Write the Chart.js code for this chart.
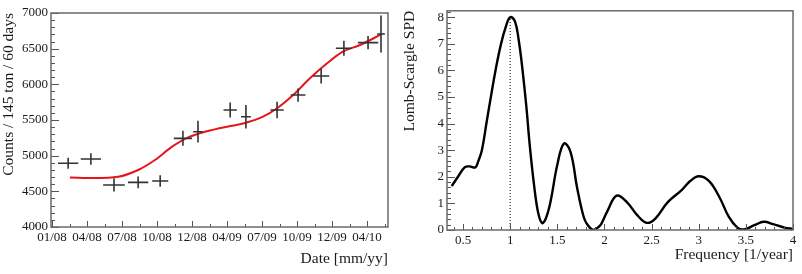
<!DOCTYPE html>
<html>
<head>
<meta charset="utf-8">
<script src="https://cdn.jsdelivr.net/npm/chart.js@4"></script>
<style>
  body { margin: 0; background: #fff; }
  .pane { position: absolute; top: 0; width: 401px; height: 274px; }
</style>
</head>
<body>
<div class="pane" style="left:0"><canvas id="rateChart" width="401" height="274"></canvas></div>
<div class="pane" style="left:401px"><canvas id="spdChart" width="401" height="274"></canvas></div>
<script>
// left panel: rate vs date
const dateLabels = ["01/08", "04/08", "07/08", "10/08", "12/08", "04/09", "07/09", "10/09", "12/09", "04/10"];
const binX = [0.46, 1.11, 1.77, 2.46, 3.09, 3.74, 4.17, 5.09, 5.54, 6.43, 7.03, 7.69, 8.34, 9.03, 9.4];
const binHalf = [0.29, 0.29, 0.31, 0.29, 0.23, 0.26, 0.14, 0.19, 0.14, 0.19, 0.21, 0.23, 0.23, 0.29, 0.11];
const counts = [4893, 4953, 4589, 4626, 4645, 5243, 5336, 5640, 5546, 5640, 5850, 6117, 6505, 6584, 6706];
const countErr = [77, 82, 93, 82, 82, 105, 152, 105, 164, 117, 93, 105, 105, 93, 260];
const fitX = [0.51, 1.2, 1.89, 2.46, 2.94, 3.43, 3.89, 4.37, 5.09, 5.46, 6.03, 6.43, 6.89, 7.37, 7.86, 8.31, 8.8, 9.43];
const fitY = [4695, 4688, 4705, 4799, 4939, 5126, 5257, 5335, 5415, 5450, 5546, 5664, 5850, 6085, 6295, 6457, 6551, 6706];

// right panel: Lomb-Scargle periodogram
const freqTicks = [0.5, 1, 1.5, 2, 2.5, 3, 3.5, 4];
const freq = [0.38, 0.45, 0.52, 0.57, 0.63, 0.66, 0.70, 0.75, 0.80, 0.85, 0.90, 0.95, 1.0, 1.05, 1.09, 1.13, 1.17, 1.21, 1.26, 1.30, 1.34, 1.38, 1.43, 1.50, 1.57, 1.64, 1.71, 1.78, 1.82, 1.88, 1.94, 1.97, 2.03, 2.13, 2.24, 2.35, 2.45, 2.54, 2.67, 2.81, 2.91, 3.0, 3.11, 3.22, 3.32, 3.41, 3.48, 3.59, 3.69, 3.79, 3.91, 4.0];
const spd = [1.65, 2.02, 2.36, 2.39, 2.35, 2.57, 3.0, 4.05, 5.1, 6.1, 6.95, 7.6, 8.0, 7.85, 7.15, 6.05, 4.7, 3.1, 1.5, 0.6, 0.26, 0.45, 1.10, 2.45, 3.25, 2.94, 1.59, 0.49, 0.2, 0.0, 0.12, 0.25, 0.7, 1.29, 1.04, 0.55, 0.27, 0.43, 1.04, 1.47, 1.84, 2.02, 1.84, 1.23, 0.49, 0.09, 0.02, 0.18, 0.31, 0.22, 0.09, 0.04];
const peakFreq = [1, 1];
const peakLine = [0, 8];

const FONT = "'Liberation Serif', 'DejaVu Serif', serif";
const INK = "#1a1a1a";

// ROOT-like frame with inward tick marks
const frameTicks = {
  id: "frameTicks",
  afterDraw(chart, args, opts) {
    const { ctx, chartArea: a, scales } = chart;
    ctx.save();
    ctx.strokeStyle = "#555";
    ctx.lineWidth = 1;
    ["x", "y"].forEach((k) => {
      const s = scales[k], o = opts[k];
      const mark = (v, len) => {
        const p = Math.round(s.getPixelForValue(v)) + 0.5;
        ctx.beginPath();
        if (k === "x") { ctx.moveTo(p, a.bottom); ctx.lineTo(p, a.bottom - len); }
        else { ctx.moveTo(a.left, p); ctx.lineTo(a.left + len, p); }
        ctx.stroke();
      };
      for (let i = 0; o.from + i * o.step <= o.to + 1e-9; i++) mark(o.from + i * o.step, o.minorLen);
      s.ticks.forEach((t) => mark(t.value, o.majorLen));
    });
    ctx.strokeStyle = "#6a6a6a";
    ctx.lineWidth = 1.5;
    ctx.strokeRect(a.left, a.top, a.right - a.left, a.bottom - a.top);
    ctx.restore();
  },
};

// crosses: x bin width and y statistical error
const errorBars = {
  id: "errorBars",
  afterDatasetsDraw(chart) {
    if (chart.canvas.id !== "rateChart") return;
    const { ctx, scales: { x, y } } = chart;
    ctx.save();
    ctx.strokeStyle = "#333";
    ctx.lineWidth = 1.6;
    binX.forEach((xv, i) => {
      const px = x.getPixelForValue(xv), py = y.getPixelForValue(counts[i]);
      ctx.beginPath();
      ctx.moveTo(x.getPixelForValue(xv - binHalf[i]), py);
      ctx.lineTo(x.getPixelForValue(xv + binHalf[i]), py);
      ctx.moveTo(px, y.getPixelForValue(counts[i] - countErr[i]));
      ctx.lineTo(px, y.getPixelForValue(counts[i] + countErr[i]));
      ctx.stroke();
    });
    ctx.restore();
  },
};

const tickFont = { family: FONT, size: 13 };
const titleFont = { family: FONT, size: 15.5 };

new Chart(document.getElementById("rateChart"), {
  type: "scatter",
  data: {
    datasets: [
      {
        data: binX.map((x, i) => ({ x, y: counts[i] })),
        pointRadius: 0,
        showLine: false,
      },
      {
        data: fitX.map((x, i) => ({ x, y: fitY[i] })),
        showLine: true,
        borderColor: "#e8141b",
        borderWidth: 2,
        pointRadius: 0,
        cubicInterpolationMode: "monotone",
      },
    ],
  },
  options: {
    responsive: false,
    animation: false,
    devicePixelRatio: 1,
    layout: { padding: { left: 0, right: 13, top: 13, bottom: 0 } },
    plugins: {
      legend: { display: false },
      tooltip: { enabled: false },
      frameTicks: {
        x: { from: -0.5, to: 9.5, step: 0.5, majorLen: 6, minorLen: 3 },
        y: { from: 4000, to: 7000, step: 100, majorLen: 8, minorLen: 4 },
      },
    },
    scales: {
      x: {
        type: "linear",
        min: -0.03,
        max: 9.6,
        afterBuildTicks: (s) => { s.ticks = dateLabels.map((_, i) => ({ value: i })); },
        afterFit: (s) => { s.height = 47; },
        grid: { display: false, drawTicks: false },
        border: { display: false },
        ticks: {
          autoSkip: false, maxRotation: 0, padding: 3, color: INK, font: tickFont,
          callback: (v) => dateLabels[v],
        },
        title: {
          display: true, text: "Date [mm/yy]", align: "end", color: INK,
          font: titleFont, padding: { top: 0, bottom: 6 },
        },
      },
      y: {
        min: 4000,
        max: 7000,
        afterBuildTicks: (s) => { s.ticks = [4000, 4500, 5000, 5500, 6000, 6500, 7000].map((v) => ({ value: v })); },
        afterFit: (s) => { s.width = 51; },
        grid: { display: false, drawTicks: false },
        border: { display: false },
        ticks: { padding: 3, color: INK, font: tickFont, callback: (v) => String(v) },
        title: {
          display: true, text: "Counts / 145 ton / 60 days", align: "end", color: INK,
          font: titleFont, padding: { top: 0, bottom: 0 },
        },
      },
    },
  },
  plugins: [frameTicks, errorBars],
});

new Chart(document.getElementById("spdChart"), {
  type: "scatter",
  data: {
    datasets: [
      {
        data: freq.map((x, i) => ({ x, y: spd[i] })),
        showLine: true,
        borderColor: "#000",
        borderWidth: 2.4,
        pointRadius: 0,
        tension: 0.4,
      },
      {
        data: peakFreq.map((x, i) => ({ x, y: peakLine[i] })),
        showLine: true,
        borderColor: "#000",
        borderWidth: 1,
        borderDash: [1, 2],
        pointRadius: 0,
      },
    ],
  },
  options: {
    responsive: false,
    animation: false,
    devicePixelRatio: 1,
    layout: { padding: { left: 0, right: 9, top: 6, bottom: 0 } },
    plugins: {
      legend: { display: false },
      tooltip: { enabled: false },
      frameTicks: {
        x: { from: 0.4, to: 4.0, step: 0.1, majorLen: 6, minorLen: 3 },
        y: { from: 0, to: 8.2, step: 0.2, majorLen: 8, minorLen: 4 },
      },
    },
    scales: {
      x: {
        type: "linear",
        min: 0.33,
        max: 4.0,
        afterBuildTicks: (s) => { s.ticks = freqTicks.map((v) => ({ value: v })); },
        afterFit: (s) => { s.height = 44; },
        grid: { display: false, drawTicks: false },
        border: { display: false },
        ticks: { autoSkip: false, maxRotation: 0, padding: 3, color: INK, font: tickFont, callback: (v) => String(v) },
        title: {
          display: true, text: "Frequency [1/year]", align: "end", color: INK,
          font: titleFont, padding: { top: 0, bottom: 10 },
        },
      },
      y: {
        min: 0,
        max: 8.24,
        afterBuildTicks: (s) => { s.ticks = [0, 1, 2, 3, 4, 5, 6, 7, 8].map((v) => ({ value: v })); },
        afterFit: (s) => { s.width = 46; },
        grid: { display: false, drawTicks: false },
        border: { display: false },
        ticks: { padding: 3, color: INK, font: tickFont, callback: (v) => String(v) },
        title: {
          display: true, text: "Lomb-Scargle SPD", align: "end", color: INK,
          font: titleFont, padding: { top: 0, bottom: 0 },
        },
      },
    },
  },
  plugins: [frameTicks],
});
</script>
</body>
</html>
